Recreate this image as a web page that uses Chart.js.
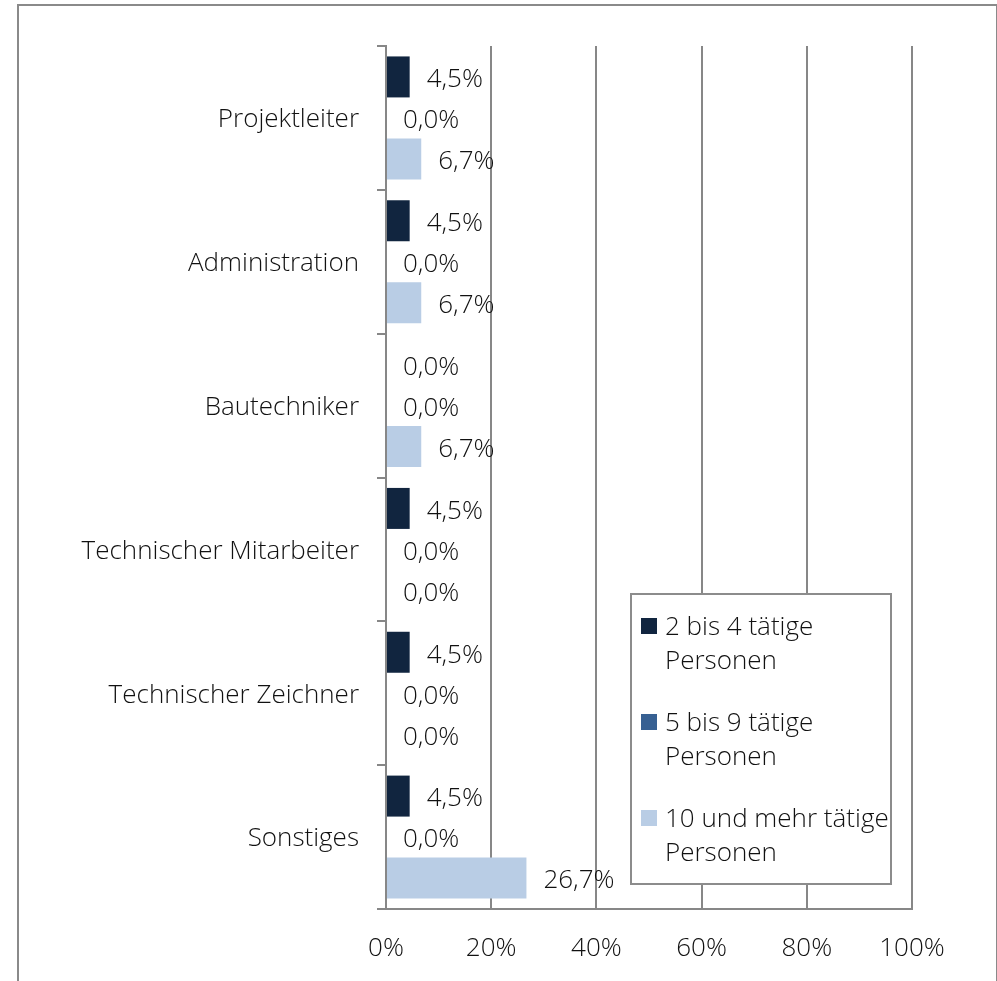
<!DOCTYPE html>
<html>
<head>
<meta charset="utf-8">
<script src="https://cdn.jsdelivr.net/npm/chart.js@4/dist/chart.umd.min.js"></script>
<style>
  html, body { margin: 0; padding: 0; background: #fff; overflow: hidden; }
  #frame {
    position: absolute; left: 17px; top: 4px;
    width: 981px; height: 1100px;
    box-sizing: border-box; border: 2px solid #8a8a8a;
  }
  #wrap { position: absolute; left: 0; top: 0; width: 997px; height: 981px; }
</style>
</head>
<body>
<div id="frame"></div>
<div id="wrap"><canvas id="chart"></canvas></div>
<script>
// categories, top to bottom
var categories = ['Projektleiter', 'Administration', 'Bautechniker',
  'Technischer Mitarbeiter', 'Technischer Zeichner', 'Sonstiges'];

// series names
var seriesNames = ['2 bis 4 tätige Personen', '5 bis 9 tätige Personen', '10 und mehr tätige Personen'];

// values in percent
var small = [4.5, 4.5, 0.0, 4.5, 4.5, 4.5];
var medium = [0.0, 0.0, 0.0, 0.0, 0.0, 0.0];
var large = [6.7, 6.7, 6.7, 0.0, 0.0, 26.7];

var xTicks = [0, 20, 40, 60, 80, 100];

var colors = ['#11253f', '#376092', '#b9cde5'];
var FONT = '"Open Sans", "Noto Sans", sans-serif';
var SIZE = 26;
var TEXT = '#111111';
var GRID = '#878787';

function fmt(v) {
  return v.toFixed(1).replace('.', ',') + '%';
}

// value labels to the right of every bar
var barLabels = {
  id: 'barLabels',
  afterDatasetsDraw: function(chart) {
    var ctx = chart.ctx;
    ctx.save();
    ctx.font = '300 ' + SIZE + 'px ' + FONT;
    ctx.fillStyle = TEXT;
    ctx.textAlign = 'left';
    ctx.textBaseline = 'middle';
    chart.data.datasets.forEach(function(ds, i) {
      var meta = chart.getDatasetMeta(i);
      meta.data.forEach(function(el, j) {
        ctx.fillText(fmt(ds.data[j]), el.x + 17, el.y + 3);
      });
    });
    ctx.restore();
  }
};

// boxed legend inside the plot, bottom right, with wrapped labels
var boxLegend = {
  id: 'boxLegend',
  afterDraw: function(chart) {
    var ctx = chart.ctx;
    var a = chart.chartArea;
    var w = 260, h = 290;
    var x = a.right - 21 - w, y = a.bottom - 25 - h;
    ctx.save();
    ctx.fillStyle = '#fff';
    ctx.fillRect(x, y, w, h);
    ctx.strokeStyle = '#8c8c8c';
    ctx.lineWidth = 2;
    ctx.strokeRect(x, y, w, h);
    ctx.font = '300 ' + SIZE + 'px ' + FONT;
    ctx.textBaseline = 'middle';
    ctx.textAlign = 'left';
    chart.data.datasets.forEach(function(ds, i) {
      var cy = y + 32 + i * 96;
      ctx.fillStyle = ds.backgroundColor;
      ctx.fillRect(x + 10, cy - 8, 16, 16);
      ctx.fillStyle = TEXT;
      var words = ds.label.split(' ');
      var lines = [], line = '';
      words.forEach(function(wd) {
        var test = line ? line + ' ' + wd : wd;
        if (line && ctx.measureText(test).width > 234) {
          lines.push(line);
          line = wd;
        } else {
          line = test;
        }
      });
      lines.push(line);
      lines.forEach(function(t, k) {
        ctx.fillText(t, x + 34, cy + 2 + k * 34);
      });
    });
    ctx.restore();
  }
};

new Chart(document.getElementById('chart'), {
  type: 'bar',
  data: {
    labels: categories,
    datasets: [
      { label: seriesNames[0], data: small, backgroundColor: colors[0] },
      { label: seriesNames[1], data: medium, backgroundColor: colors[1] },
      { label: seriesNames[2], data: large, backgroundColor: colors[2] }
    ]
  },
  options: {
    indexAxis: 'y',
    responsive: true,
    maintainAspectRatio: false,
    animation: false,
    datasets: { bar: { categoryPercentage: 0.855, barPercentage: 1.0 } },
    layout: { padding: { left: 0, top: 46, right: 85, bottom: 0 } },
    plugins: {
      legend: { display: false },
      tooltip: { enabled: false }
    },
    scales: {
      x: {
        min: 0, max: 100,
        afterBuildTicks: function(scale) {
          scale.ticks = xTicks.map(function(v) { return { value: v }; });
        },
        afterFit: function(scale) { scale.height = 72; },
        grid: { color: GRID, lineWidth: 2, drawTicks: false },
        border: { color: GRID, width: 2 },
        ticks: {
          padding: 24,
          color: TEXT,
          font: { family: FONT, size: SIZE, weight: 300 },
          callback: function(v) { return v + '%'; }
        }
      },
      y: {
        afterFit: function(scale) { scale.width = 386; },
        grid: {
          drawOnChartArea: false, drawTicks: true, tickLength: 9,
          color: GRID, lineWidth: 2
        },
        border: { color: GRID, width: 2 },
        ticks: {
          padding: 18,
          labelOffset: 2,
          color: TEXT,
          font: { family: FONT, size: SIZE, weight: 300 }
        }
      }
    }
  },
  plugins: [barLabels, boxLegend]
});
</script>
</body>
</html>
